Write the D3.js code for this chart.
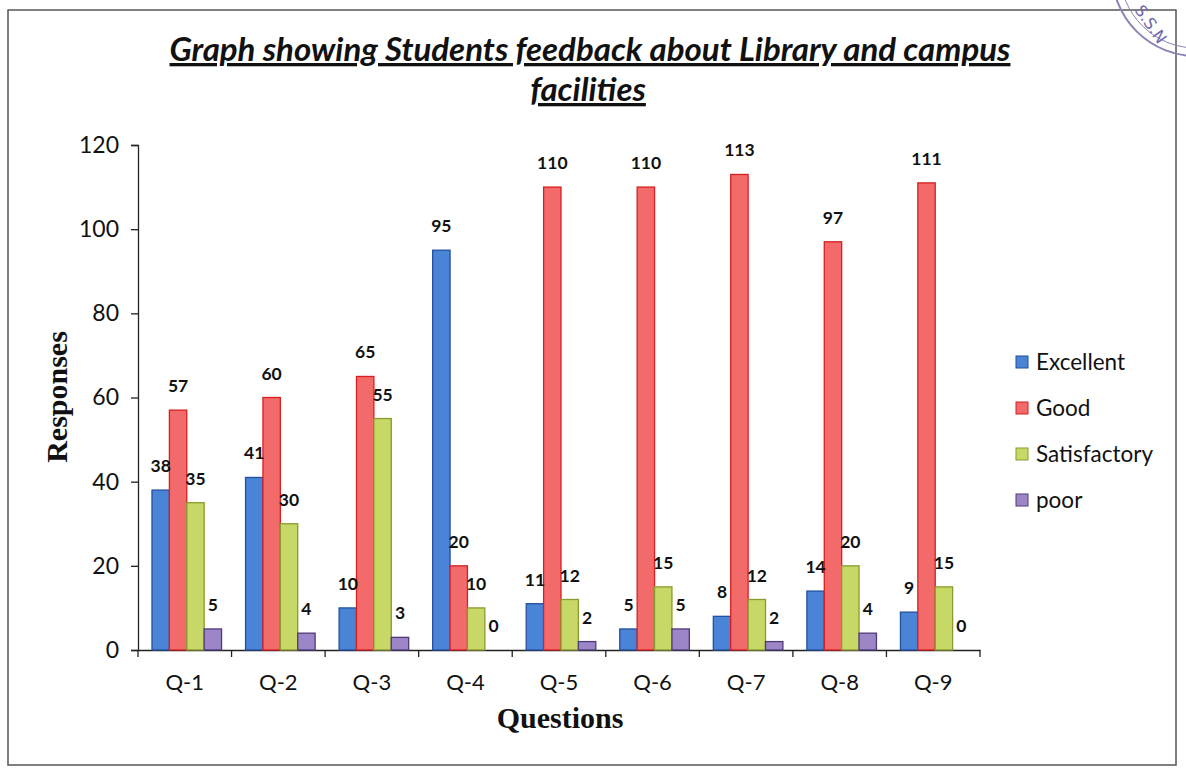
<!DOCTYPE html>
<html>
<head>
<meta charset="utf-8">
<script src="https://cdn.jsdelivr.net/npm/d3@7"></script>
<style>
  body { margin: 0; background: #fff; }
  svg { display: block; }
</style>
</head>
<body>
<svg id="chart"></svg>
<script>
var WIDTH = 1186;
var HEIGHT = 769;

// data
var questions = ['Q-1', 'Q-2', 'Q-3', 'Q-4', 'Q-5', 'Q-6', 'Q-7', 'Q-8', 'Q-9'];
var seriesNames = ['Excellent', 'Good', 'Satisfactory', 'poor'];
var excellent = [38, 41, 10, 95, 11, 5, 8, 14, 9];
var good = [57, 60, 65, 20, 110, 110, 113, 97, 111];
var satisfactory = [35, 30, 55, 10, 12, 15, 12, 20, 15];
var poor = [5, 4, 3, 0, 2, 5, 2, 4, 0];
var yTicks = [0, 20, 40, 60, 80, 100, 120];

var fills = ['#4a84d6', '#f26a6a', '#c8d866', '#9d86c8'];
var strokes = ['#244f9e', '#d81f1f', '#8a9a2e', '#4e3a78'];

var seriesValues = [excellent, good, satisfactory, poor];

var svg = d3.select('#chart')
  .attr('width', WIDTH)
  .attr('height', HEIGHT);

// outer frame of the scanned figure
svg.append('rect')
  .attr('x', 8).attr('y', 10)
  .attr('width', 1168).attr('height', 755)
  .attr('fill', 'none')
  .attr('stroke', '#555')
  .attr('stroke-width', 1.5);

// partial stamp at the top right corner
var stamp = svg.append('g').attr('transform', 'translate(1196,-28)');
stamp.append('circle').attr('r', 84).attr('fill', 'none').attr('stroke', '#8b84b8').attr('stroke-width', 2);
stamp.append('circle').attr('r', 76).attr('fill', 'none').attr('stroke', '#8b84b8').attr('stroke-width', 1);
stamp.append('text')
  .attr('x', -62).attr('y', 38)
  .attr('transform', 'rotate(55,-62,38)')
  .attr('fill', '#6f68a8')
  .style('font-family', 'DejaVu Sans')
  .style('font-size', '16px')
  .text('S.S.N');

// title
var title = svg.append('g')
  .style('font-family', 'Lato')
  .style('font-style', 'italic')
  .style('font-weight', 700)
  .style('font-size', '33px')
  .attr('fill', '#111')
  .attr('text-anchor', 'middle');
title.append('text').attr('x', 590).attr('y', 61)
  .attr('text-decoration', 'underline')
  .text('Graph showing Students feedback about Library and campus');
title.append('text').attr('x', 588).attr('y', 101)
  .attr('text-decoration', 'underline')
  .text('facilities');

// scales
var x0 = d3.scaleBand().domain(questions).range([138, 980]).padding(0);
var x1 = d3.scaleBand().domain(seriesNames).range([14, x0.bandwidth() - 10]).padding(0);
var y = d3.scaleLinear().domain([0, 120]).range([650, 145]);

// y axis
var leftAxis = d3.axisLeft(y).tickValues(yTicks).tickSize(7).tickPadding(12);
var gy = svg.append('g')
  .attr('transform', 'translate(138,0)')
  .call(leftAxis);
gy.select('.domain').attr('stroke', '#222').attr('stroke-width', 1.3);
gy.selectAll('.tick line').attr('stroke', '#222').attr('stroke-width', 1.3);
gy.selectAll('.tick text')
  .attr('fill', '#111')
  .style('font-family', 'Lato')
  .style('font-size', '23px');

// x axis: labels at centres, tick marks at category boundaries
var bottomAxis = d3.axisBottom(x0).tickSize(0).tickPadding(24);
var gx = svg.append('g')
  .attr('transform', 'translate(0,650)')
  .call(bottomAxis);
gx.select('.domain').attr('stroke', '#222').attr('stroke-width', 1.3);
gx.selectAll('.tick text')
  .attr('fill', '#111')
  .style('font-family', 'Lato')
  .style('font-size', '22px');
var bounds = questions.map(function(q) { return x0(q); }).concat([x0.range()[1]]);
gx.selectAll('line.bound')
  .data(bounds)
  .enter()
  .append('line')
  .attr('class', 'bound')
  .attr('x1', function(d) { return d; })
  .attr('x2', function(d) { return d; })
  .attr('y1', 0)
  .attr('y2', 7)
  .attr('stroke', '#222')
  .attr('stroke-width', 1.3);

// bars
var rows = [];
questions.forEach(function(q, i) {
  seriesNames.forEach(function(s, j) {
    rows.push({ q: q, s: s, j: j, v: seriesValues[j][i] });
  });
});

svg.append('g').selectAll('rect')
  .data(rows)
  .enter()
  .append('rect')
  .attr('x', function(d) { return x0(d.q) + x1(d.s); })
  .attr('y', function(d) { return y(d.v); })
  .attr('width', x1.bandwidth())
  .attr('height', function(d) { return y(0) - y(d.v); })
  .attr('fill', function(d) { return fills[d.j]; })
  .attr('stroke', function(d) { return strokes[d.j]; })
  .attr('stroke-width', 1.3);

// value labels
svg.append('g').selectAll('text')
  .data(rows)
  .enter()
  .append('text')
  .attr('x', function(d) { return x0(d.q) + x1(d.s) + x1.bandwidth() / 2; })
  .attr('y', function(d) { return y(d.v) - 18; })
  .attr('text-anchor', 'middle')
  .attr('fill', '#111')
  .style('font-family', 'Lato')
  .style('font-weight', 700)
  .style('font-size', '17.5px')
  .text(function(d) { return d.v; });

// axis titles
svg.append('text')
  .attr('transform', 'translate(67,397) rotate(-90)')
  .attr('text-anchor', 'middle')
  .attr('fill', '#111')
  .style('font-family', 'Liberation Serif')
  .style('font-weight', 700)
  .style('font-size', '30px')
  .text('Responses');

svg.append('text')
  .attr('x', 560).attr('y', 728)
  .attr('text-anchor', 'middle')
  .attr('fill', '#111')
  .style('font-family', 'Liberation Serif')
  .style('font-weight', 700)
  .style('font-size', '30px')
  .text('Questions');

// legend
var legend = svg.append('g').selectAll('g')
  .data(seriesNames)
  .enter()
  .append('g')
  .attr('transform', function(d, i) { return 'translate(1016,' + (362 + i * 46) + ')'; });
legend.append('rect')
  .attr('x', 0).attr('y', -6)
  .attr('width', 12).attr('height', 12)
  .attr('fill', function(d, i) { return fills[i]; })
  .attr('stroke', function(d, i) { return strokes[i]; });
legend.append('text')
  .attr('x', 20).attr('y', 8)
  .attr('fill', '#111')
  .style('font-family', 'Lato')
  .style('font-size', '22.5px')
  .text(function(d) { return d; });
</script>
</body>
</html>
